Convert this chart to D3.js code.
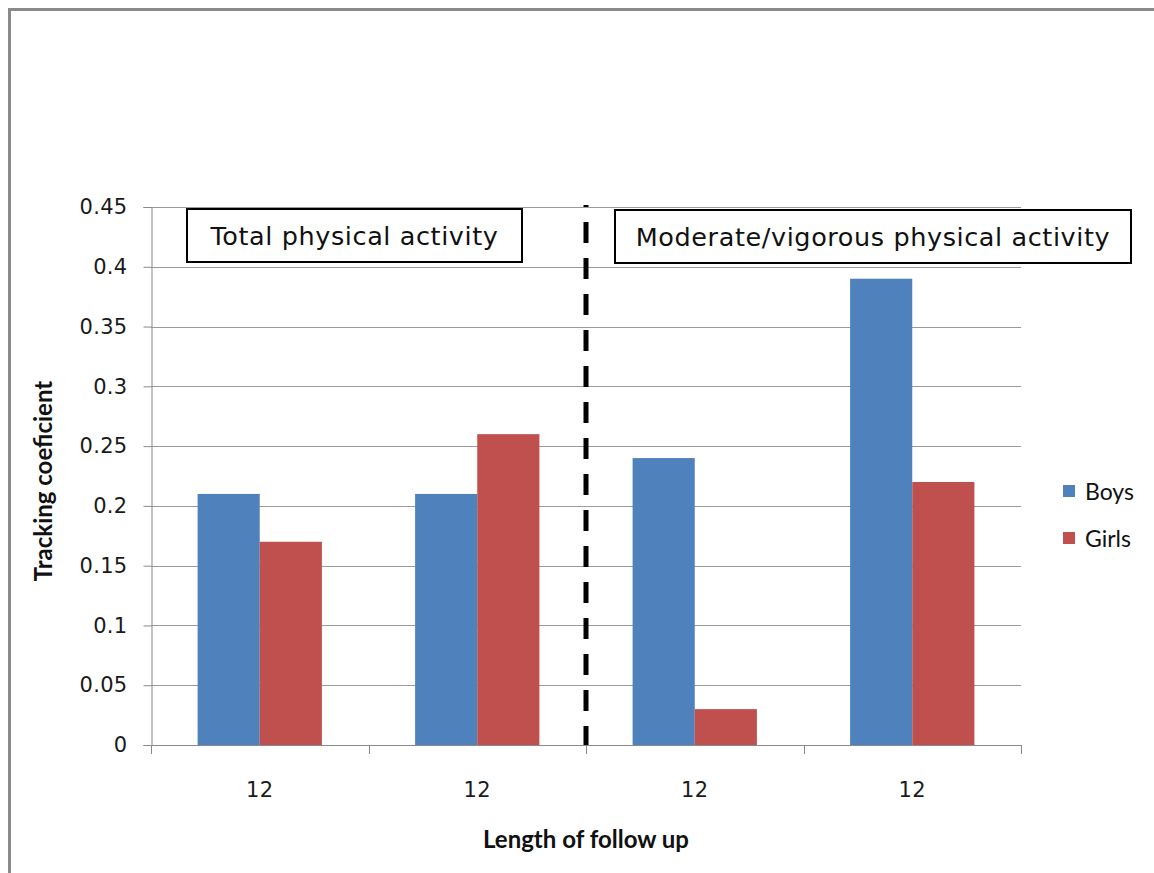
<!DOCTYPE html>
<html>
<head>
<meta charset="utf-8">
<script src="https://cdn.jsdelivr.net/npm/d3@7"></script>
<style>
  html, body { margin: 0; padding: 0; background: #fff; }
  svg { display: block; }
</style>
</head>
<body>
<svg id="chart" width="1154" height="873"></svg>
<script>
// Tracking coefficients by length of follow up (months)
const categories = ["12", "12", "12", "12"];
const series = ["Boys", "Girls"];
const boys = [0.21, 0.21, 0.24, 0.39];
const girls = [0.17, 0.26, 0.03, 0.22];
const yTicks = [0, 0.05, 0.1, 0.15, 0.2, 0.25, 0.3, 0.35, 0.4, 0.45];
const yTickLabels = ["0", "0.05", "0.1", "0.15", "0.2", "0.25", "0.3", "0.35", "0.4", "0.45"];
const panelLabels = ["Total physical activity", "Moderate/vigorous physical activity"];
const colors = ["#4F81BD", "#C0504D"];

const svg = d3.select("#chart");
const plot = { left: 151, right: 1021, top: 207, bottom: 745 };

// outer chart frame
svg.append("rect")
  .attr("x", 9.5).attr("y", 9.5)
  .attr("width", 1300).attr("height", 1000)
  .attr("fill", "#fff")
  .attr("stroke", "#8a8a8a").attr("stroke-width", 3);

const x = d3.scaleBand()
  .domain(d3.range(categories.length))
  .range([plot.left, plot.right])
  .paddingInner(0).paddingOuter(0);

// Excel-style gap width of 150%
const gap = 1.5;
const x1 = d3.scaleBand()
  .domain(series)
  .range([0, x.bandwidth()])
  .paddingInner(0)
  .paddingOuter(gap / 2);

const y = d3.scaleLinear().domain([0, 0.45]).range([plot.bottom, plot.top]);

// gridlines
svg.append("g")
  .selectAll("line")
  .data(yTicks.filter(d => d > 0))
  .join("line")
  .attr("x1", plot.left).attr("x2", plot.right)
  .attr("y1", d => Math.round(y(d)) + 0.5).attr("y2", d => Math.round(y(d)) + 0.5)
  .attr("stroke", "#9a9a9a").attr("stroke-width", 1);

// y axis
const yAxis = d3.axisLeft(y)
  .tickValues(yTicks)
  .tickFormat((d, i) => yTickLabels[i])
  .tickSize(8)
  .tickPadding(16);
const gy = svg.append("g")
  .attr("transform", `translate(${plot.left + 0.5},0)`)
  .call(yAxis);
gy.select(".domain").attr("stroke", "#8a8a8a");
gy.selectAll(".tick line").attr("stroke", "#8a8a8a");
gy.selectAll(".tick text")
  .attr("fill", "#1a1a1a")
  .style("font-family", "'DejaVu Sans', Verdana, sans-serif")
  .style("font-size", "21px")
  .style("letter-spacing", "0.3px");

// bars
const rows = categories.map((c, i) => ({ i, values: [boys[i], girls[i]] }));
const groups = svg.append("g")
  .selectAll("g")
  .data(rows)
  .join("g")
  .attr("transform", d => `translate(${x(d.i)},0)`);
groups.selectAll("rect")
  .data(d => d.values.map((v, k) => ({ key: series[k], v, k })))
  .join("rect")
  .attr("x", d => x1(d.key))
  .attr("width", x1.bandwidth())
  .attr("y", d => y(d.v))
  .attr("height", d => y(0) - y(d.v))
  .attr("fill", d => colors[d.k]);

// x axis: baseline, tick marks at category boundaries, labels at centers
const gx = svg.append("g");
gx.append("line")
  .attr("x1", plot.left).attr("x2", plot.right)
  .attr("y1", y(0) + 0.5).attr("y2", y(0) + 0.5)
  .attr("stroke", "#8a8a8a");
const bounds = d3.range(categories.length + 1).map(i => plot.left + i * x.bandwidth());
gx.selectAll("line.tk")
  .data(bounds)
  .join("line")
  .attr("class", "tk")
  .attr("x1", d => Math.round(d) + 0.5).attr("x2", d => Math.round(d) + 0.5)
  .attr("y1", y(0)).attr("y2", y(0) + 9)
  .attr("stroke", "#8a8a8a");
gx.selectAll("text")
  .data(categories)
  .join("text")
  .attr("x", (d, i) => x(i) + x.bandwidth() / 2)
  .attr("y", 797)
  .attr("text-anchor", "middle")
  .attr("fill", "#1a1a1a")
  .style("font-family", "'DejaVu Sans', Verdana, sans-serif")
  .style("font-size", "21px")
  .style("letter-spacing", "0.5px")
  .text(d => d);

// divider between the two activity measures
const divX = x(2);
svg.append("line")
  .attr("x1", divX).attr("x2", divX)
  .attr("y1", plot.top - 2).attr("y2", plot.bottom)
  .attr("stroke", "#000")
  .attr("stroke-width", 5)
  .attr("stroke-dasharray", "21,15")
  .attr("stroke-dashoffset", 19);

// panel captions
const boxes = [
  { text: panelLabels[0], x: 187, y: 209, w: 335, h: 53 },
  { text: panelLabels[1], x: 615, y: 210, w: 516, h: 53 }
];
const bg = svg.append("g").selectAll("g").data(boxes).join("g");
bg.append("rect")
  .attr("x", d => d.x).attr("y", d => d.y)
  .attr("width", d => d.w).attr("height", d => d.h)
  .attr("fill", "#fff").attr("stroke", "#000").attr("stroke-width", 2);
bg.append("text")
  .attr("x", d => d.x + d.w / 2)
  .attr("y", d => d.y + d.h / 2 + 9)
  .attr("text-anchor", "middle")
  .attr("fill", "#111")
  .style("font-family", "'DejaVu Sans', Verdana, sans-serif")
  .style("font-size", "25.5px")
  .style("letter-spacing", "0.6px")
  .text(d => d.text);

// axis titles
svg.append("text")
  .attr("x", 586).attr("y", 848)
  .attr("text-anchor", "middle")
  .attr("fill", "#111")
  .style("font-family", "Lato, 'Open Sans', sans-serif")
  .style("font-weight", "bold")
  .style("font-size", "24px")
  .text("Length of follow up");

svg.append("text")
  .attr("transform", "translate(52,481) rotate(-90)")
  .attr("text-anchor", "middle")
  .attr("fill", "#111")
  .style("font-family", "Lato, 'Open Sans', sans-serif")
  .style("font-weight", "bold")
  .style("font-size", "24px")
  .text("Tracking coeficient");

// legend
const legend = svg.append("g").attr("transform", "translate(1063,485)");
const li = legend.selectAll("g").data(series).join("g")
  .attr("transform", (d, i) => `translate(0,${i * 47})`);
li.append("rect")
  .attr("width", 12).attr("height", 12)
  .attr("fill", (d, i) => colors[i]);
li.append("text")
  .attr("x", 22).attr("y", 15)
  .attr("fill", "#111")
  .style("font-family", "Lato, 'Open Sans', sans-serif")
  .style("font-size", "23px")
  .text(d => d);
</script>
</body>
</html>
